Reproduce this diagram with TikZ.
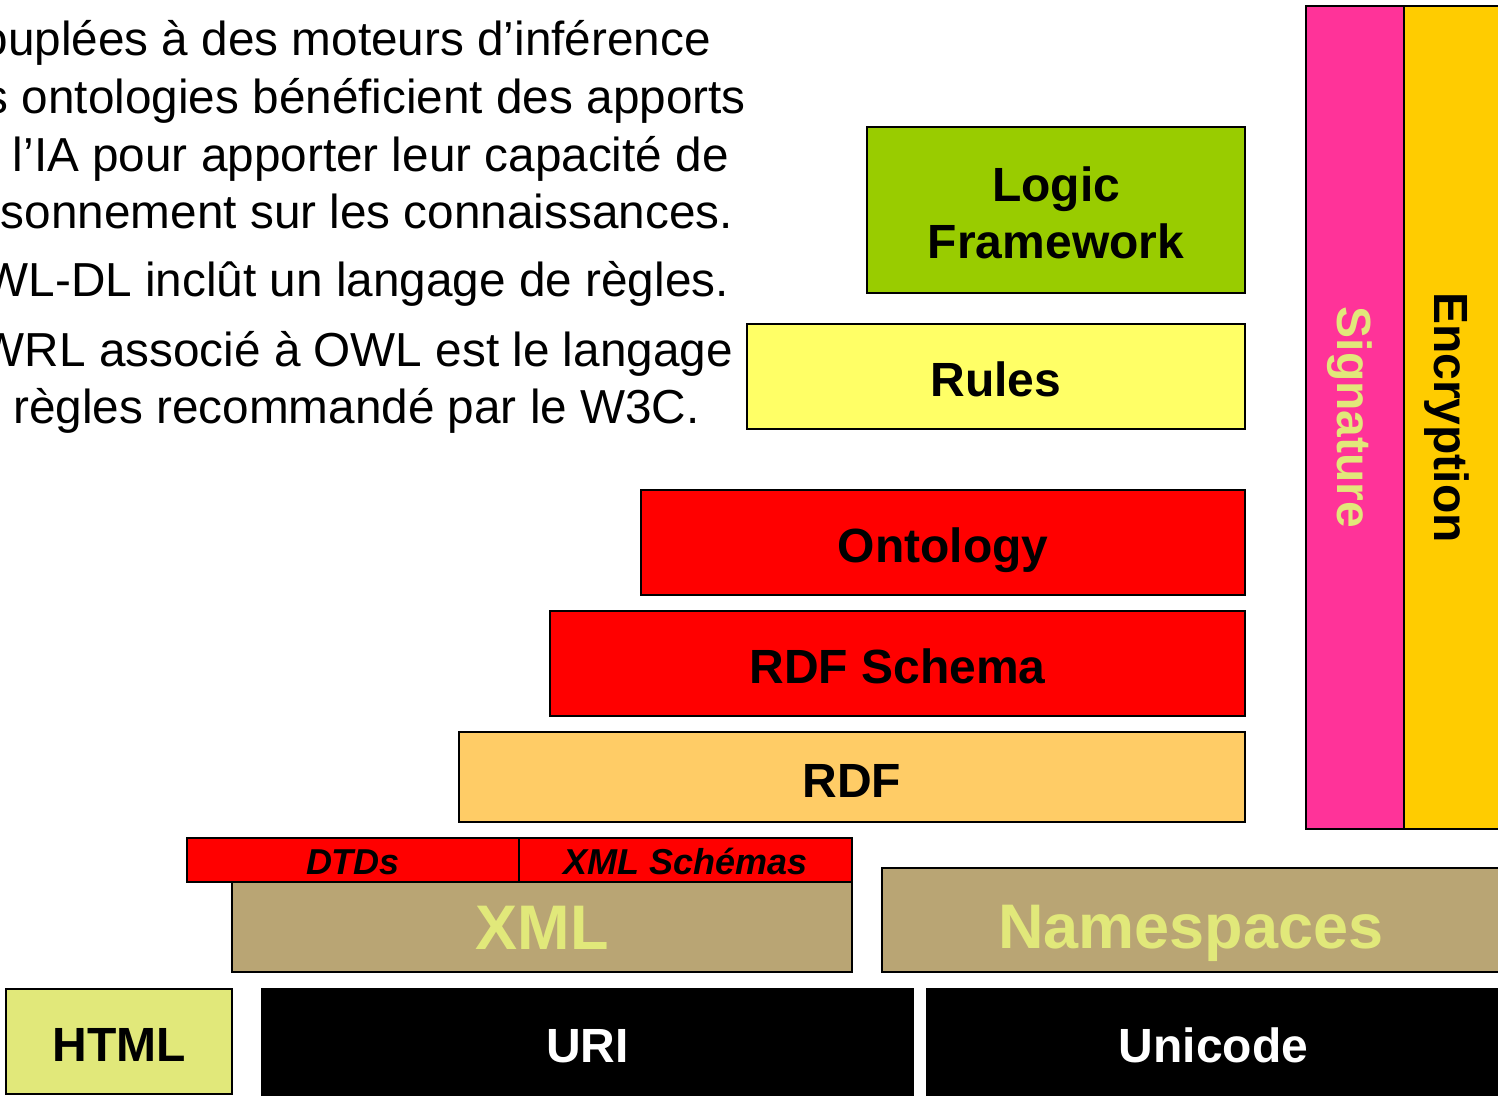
\documentclass[tikz,border=0pt]{standalone}
\usepackage{fontspec}
\setmainfont{Liberation Sans}
\definecolor{pinkc}{HTML}{FF3399}
\definecolor{encc}{HTML}{FFCC00}
\definecolor{logicc}{HTML}{99CC00}
\definecolor{rulesc}{HTML}{FFFF66}
\definecolor{redc}{HTML}{FF0000}
\definecolor{rdfc}{HTML}{FFCC66}
\definecolor{xmlc}{HTML}{B9A574}
\definecolor{lightc}{HTML}{E1E87A}
\tikzset{
  layer/.style={draw=black, line width=2pt, inner sep=0pt, outer sep=0pt,
    font=\bfseries\fontsize{48}{57}\selectfont, text height=40.4pt, text depth=0pt},
  bigtxt/.style={font=\bfseries\fontsize{63}{70}\selectfont, text height=45.1pt, text depth=0pt},
  smalltxt/.style={font=\bfseries\itshape\fontsize{36}{40}\selectfont, text height=29.8pt, text depth=0pt},
  vlabel/.style={rotate=-90, inner sep=0pt, font=\bfseries\fontsize{48}{57}\selectfont,
    text height=34.4pt, text depth=0pt},
  twoline/.style={inner sep=0pt, align=center, font=\bfseries\fontsize{48}{57}\selectfont},
  bodytxt/.style={anchor=base east, inner sep=0pt, font=\fontsize{47.7}{58}\selectfont}
}
\begin{document}
\begin{tikzpicture}[x=1pt,y=-1pt]
\useasboundingbox (0,0) rectangle (1498,1095);
\clip (0,0) rectangle (1498,1095);
\fill[white] (0,0) rectangle (1498,1095);

% left text
\node[bodytxt] (t1) at (711,55) {ouplées à des moteurs d’inférence};
\node[bodytxt] (t2) at (746,113) {s ontologies bénéficient des apports};
\node[bodytxt] (t3) at (729,171) {l’IA pour apporter leur capacité de};
\node[bodytxt] (t4) at (733,228) {sonnement sur les connaissances.};
\node[bodytxt] (t5) at (729,296) {WL-DL inclût un langage de règles.};
\node[bodytxt] (t6) at (733,366) {WRL associé à OWL est le langage};
\node[bodytxt] (t7) at (700,423) {règles recommandé par le W3C.};

% vertical columns
\node[layer, fill=pinkc, minimum width=98pt, minimum height=823pt] (sig) at (1355,417.5) {};
\node[layer, fill=encc, minimum width=96pt, minimum height=823pt] (enc) at (1452,417.5) {};
\node[vlabel, text=lightc] (sigl) at (sig.center) {Signature};
\node[vlabel, text=black] (encl) at (enc.center) {Encryption};

% stack
\node[layer, fill=logicc, minimum width=378pt, minimum height=166pt] (logic) at (1056,210) {};
\node[twoline, yshift=-3pt] (logicl) at (logic.center) {Logic\\Framework};
\node[layer, fill=rulesc, minimum width=498pt, minimum height=105pt] (rules) at (996,376.5) {Rules};
\node[layer, fill=redc, minimum width=604pt, minimum height=105pt] (onto) at (943,542.5) {Ontology};
\node[layer, fill=redc, minimum width=695pt, minimum height=105pt] (rdfs) at (897.5,663.5) {RDF Schema};
\node[layer, fill=rdfc, minimum width=786pt, minimum height=90pt] (rdf) at (852,777) {RDF};
\node[layer, smalltxt, fill=redc, minimum width=332pt, minimum height=44pt] (dtd) at (353,860) {DTDs};
\node[layer, smalltxt, fill=redc, minimum width=333pt, minimum height=44pt] (xsch) at (685.5,860) {XML Schémas};
\node[layer, bigtxt, fill=xmlc, text=lightc, minimum width=620pt, minimum height=90pt] (xml) at (542,927) {XML};
\node[layer, bigtxt, fill=xmlc, text=lightc, minimum width=618pt, minimum height=104pt,
  text height=57.1pt] (ns) at (1191,920) {Namespaces};
\node[layer, fill=lightc, minimum width=226pt, minimum height=105pt] (html) at (119,1041.5) {HTML};
\node[layer, fill=black, text=white, minimum width=651pt, minimum height=106pt] (uri) at (587.5,1042) {URI};
\node[layer, fill=black, text=white, minimum width=573pt, minimum height=106pt] (uni) at (1213.5,1042) {Unicode};
\end{tikzpicture}
\end{document}
